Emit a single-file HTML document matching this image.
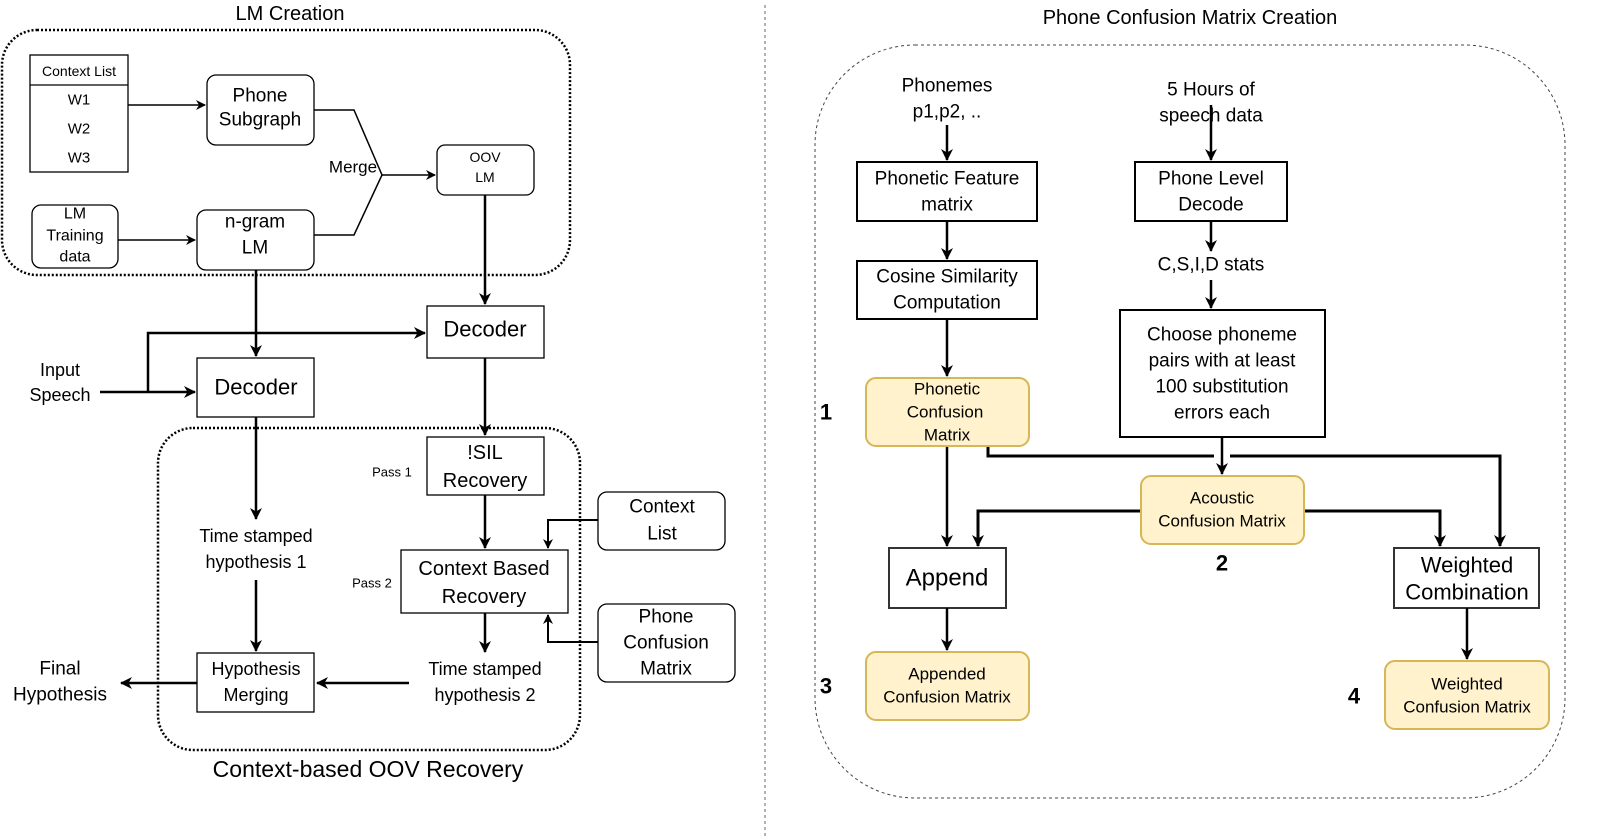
<!DOCTYPE html>
<html><head><meta charset="utf-8"><style>
html,body{margin:0;padding:0;background:#fff;}
svg{display:block;font-family:"Liberation Sans",Arial,sans-serif;}
text{dominant-baseline:central;text-anchor:middle;fill:#000;}
</style></head><body>
<svg width="1602" height="839" viewBox="0 0 1602 839" xmlns="http://www.w3.org/2000/svg">
<defs>
<marker id="a" markerWidth="10" markerHeight="10" refX="9" refY="5" orient="auto" markerUnits="userSpaceOnUse"><path d="M0,0 L10,5 L0,10 L3,5 z" fill="#000"/></marker>
<marker id="b" markerWidth="12" markerHeight="12" refX="11" refY="6" orient="auto" markerUnits="userSpaceOnUse"><path d="M0,0 L12,6 L0,12 L3.5,6 z" fill="#000"/></marker>
</defs>

<!-- LEFT -->
<text x="290" y="14" font-size="20">LM Creation</text>
<rect x="2" y="30" width="568" height="245" rx="35" fill="none" stroke="#000" stroke-width="2.5" stroke-dasharray="2,2"/>
<rect x="30" y="55" width="98" height="117" fill="#fff" stroke="#000" stroke-width="1.3"/>
<line x1="30" y1="85" x2="128" y2="85" stroke="#000" stroke-width="1.3"/>
<text x="79" y="71" font-size="14">Context List</text>
<text x="79" y="100" font-size="15">W1</text>
<text x="79" y="129" font-size="15">W2</text>
<text x="79" y="158" font-size="15">W3</text>
<rect x="207" y="75" width="107" height="70" rx="9" fill="#fff" stroke="#000" stroke-width="1.3"/>
<text x="260" y="96" font-size="19">Phone</text>
<text x="260" y="120" font-size="19">Subgraph</text>
<line x1="128" y1="105" x2="205" y2="105" stroke="#000" stroke-width="1.5" marker-end="url(#a)"/>
<rect x="32" y="205" width="86" height="63" rx="9" fill="#fff" stroke="#000" stroke-width="1.3"/>
<text x="75" y="214" font-size="16">LM</text>
<text x="75" y="236" font-size="16">Training</text>
<text x="75" y="257" font-size="16">data</text>
<rect x="197" y="210" width="117" height="60" rx="9" fill="#fff" stroke="#000" stroke-width="1.3"/>
<text x="255" y="222" font-size="19">n-gram</text>
<text x="255" y="248" font-size="19">LM</text>
<line x1="118" y1="240" x2="195" y2="240" stroke="#000" stroke-width="1.5" marker-end="url(#a)"/>
<polyline points="314,110 354,110 382,175 354,235 314,235" fill="none" stroke="#000" stroke-width="1.5"/>
<text x="353" y="167" font-size="17">Merge</text>
<line x1="382" y1="175" x2="435" y2="175" stroke="#000" stroke-width="1.5" marker-end="url(#a)"/>
<rect x="437" y="145" width="97" height="50" rx="8" fill="#fff" stroke="#000" stroke-width="1.3"/>
<text x="485" y="157" font-size="14">OOV</text>
<text x="485" y="177" font-size="14">LM</text>
<line x1="485" y1="195" x2="485" y2="304" stroke="#000" stroke-width="2.5" marker-end="url(#b)"/>
<rect x="427" y="306" width="117" height="52" fill="#fff" stroke="#000" stroke-width="1.3"/>
<text x="485" y="329" font-size="22">Decoder</text>
<line x1="256" y1="270" x2="256" y2="356" stroke="#000" stroke-width="2.5" marker-end="url(#b)"/>
<polyline points="148,392 148,333 425,333" fill="none" stroke="#000" stroke-width="2.5" marker-end="url(#b)"/>
<line x1="100" y1="392" x2="195" y2="392" stroke="#000" stroke-width="2.5" marker-end="url(#b)"/>
<text x="60" y="370" font-size="18">Input</text>
<text x="60" y="395" font-size="18">Speech</text>
<rect x="197" y="358" width="117" height="59" fill="#fff" stroke="#000" stroke-width="1.3"/>
<text x="256" y="387" font-size="22">Decoder</text>

<rect x="158" y="428" width="422" height="322" rx="35" fill="none" stroke="#000" stroke-width="2.5" stroke-dasharray="2,2"/>
<line x1="485" y1="358" x2="485" y2="435" stroke="#000" stroke-width="2.5" marker-end="url(#b)"/>
<rect x="427" y="437" width="117" height="58" fill="#fff" stroke="#000" stroke-width="1.3"/>
<text x="485" y="453" font-size="20">!SIL</text>
<text x="485" y="481" font-size="20">Recovery</text>
<text x="392" y="472" font-size="13">Pass 1</text>
<line x1="485" y1="495" x2="485" y2="548" stroke="#000" stroke-width="2.5" marker-end="url(#b)"/>
<rect x="401" y="550" width="167" height="63" fill="#fff" stroke="#000" stroke-width="1.3"/>
<text x="484" y="569" font-size="20">Context Based</text>
<text x="484" y="597" font-size="20">Recovery</text>
<text x="372" y="583" font-size="13">Pass 2</text>
<rect x="598" y="492" width="127" height="58" rx="9" fill="#fff" stroke="#000" stroke-width="1.3"/>
<text x="662" y="507" font-size="19">Context</text>
<text x="662" y="534" font-size="19">List</text>
<polyline points="598,520 548,520 548,548" fill="none" stroke="#000" stroke-width="2" marker-end="url(#a)"/>
<rect x="598" y="604" width="137" height="78" rx="9" fill="#fff" stroke="#000" stroke-width="1.3"/>
<text x="666" y="617" font-size="19">Phone</text>
<text x="666" y="643" font-size="19">Confusion</text>
<text x="666" y="669" font-size="19">Matrix</text>
<polyline points="598,642 548,642 548,615" fill="none" stroke="#000" stroke-width="2" marker-end="url(#a)"/>
<line x1="485" y1="613" x2="485" y2="652" stroke="#000" stroke-width="2.5" marker-end="url(#b)"/>
<text x="485" y="669" font-size="18">Time stamped</text>
<text x="485" y="695" font-size="18">hypothesis 2</text>
<line x1="409" y1="683" x2="317" y2="683" stroke="#000" stroke-width="2.5" marker-end="url(#b)"/>
<rect x="197" y="653" width="117" height="59" fill="#fff" stroke="#000" stroke-width="1.3"/>
<text x="256" y="669" font-size="18">Hypothesis</text>
<text x="256" y="695" font-size="18">Merging</text>
<line x1="256" y1="417" x2="256" y2="519" stroke="#000" stroke-width="2.5" marker-end="url(#b)"/>
<text x="256" y="536" font-size="18">Time stamped</text>
<text x="256" y="562" font-size="18">hypothesis 1</text>
<line x1="256" y1="580" x2="256" y2="651" stroke="#000" stroke-width="2.5" marker-end="url(#b)"/>
<line x1="197" y1="683" x2="121" y2="683" stroke="#000" stroke-width="2.5" marker-end="url(#b)"/>
<text x="60" y="669" font-size="19">Final</text>
<text x="60" y="695" font-size="19">Hypothesis</text>
<text x="368" y="769" font-size="23">Context-based OOV Recovery</text>

<line x1="765" y1="5" x2="765" y2="839" stroke="#666" stroke-width="1" stroke-dasharray="3,3"/>

<!-- RIGHT -->
<text x="1190" y="18" font-size="20">Phone Confusion Matrix Creation</text>
<rect x="815" y="45" width="750" height="753" rx="100" fill="none" stroke="#444" stroke-width="1" stroke-dasharray="3,3"/>
<text x="947" y="86" font-size="19">Phonemes</text>
<text x="947" y="112" font-size="19">p1,p2, ..</text>
<line x1="947" y1="125" x2="947" y2="160" stroke="#000" stroke-width="2.5" marker-end="url(#b)"/>
<rect x="857" y="162" width="180" height="59" fill="#fff" stroke="#000" stroke-width="2"/>
<text x="947" y="179" font-size="19">Phonetic Feature</text>
<text x="947" y="205" font-size="19">matrix</text>
<line x1="947" y1="221" x2="947" y2="259" stroke="#000" stroke-width="2.5" marker-end="url(#b)"/>
<rect x="857" y="261" width="180" height="58" fill="#fff" stroke="#000" stroke-width="2"/>
<text x="947" y="277" font-size="19">Cosine Similarity</text>
<text x="947" y="303" font-size="19">Computation</text>
<line x1="947" y1="319" x2="947" y2="376" stroke="#000" stroke-width="2.5" marker-end="url(#b)"/>
<polyline points="988,446 988,456 1214,456" fill="none" stroke="#000" stroke-width="3"/>
<polyline points="1230,456 1500,456 1500,546" fill="none" stroke="#000" stroke-width="3" marker-end="url(#b)"/>
<line x1="947" y1="446" x2="947" y2="546" stroke="#000" stroke-width="2.5" marker-end="url(#b)"/>
<rect x="866" y="378" width="163" height="68" rx="10" fill="#fff2cc" stroke="#d6b656" stroke-width="2"/>
<text x="947" y="389" font-size="17">Phonetic</text>
<text x="945" y="412" font-size="17">Confusion</text>
<text x="947" y="435" font-size="17">Matrix</text>
<text x="826" y="412" font-size="22" font-weight="bold">1</text>
<text x="1211" y="90" font-size="19">5 Hours of</text>
<text x="1211" y="116" font-size="19">speech data</text>
<line x1="1211" y1="105" x2="1211" y2="160" stroke="#000" stroke-width="2.5" marker-end="url(#b)"/>
<rect x="1135" y="162" width="152" height="59" fill="#fff" stroke="#000" stroke-width="2"/>
<text x="1211" y="179" font-size="19">Phone Level</text>
<text x="1211" y="205" font-size="19">Decode</text>
<line x1="1211" y1="221" x2="1211" y2="251" stroke="#000" stroke-width="2.5" marker-end="url(#b)"/>
<text x="1211" y="265" font-size="19">C,S,I,D stats</text>
<line x1="1211" y1="280" x2="1211" y2="308" stroke="#000" stroke-width="2.5" marker-end="url(#b)"/>
<rect x="1120" y="310" width="205" height="127" fill="#fff" stroke="#000" stroke-width="2"/>
<text x="1222" y="335" font-size="19">Choose phoneme</text>
<text x="1222" y="361" font-size="19">pairs with at least</text>
<text x="1222" y="387" font-size="19">100 substitution</text>
<text x="1222" y="413" font-size="19">errors each</text>
<line x1="1222" y1="437" x2="1222" y2="474" stroke="#000" stroke-width="2.5" marker-end="url(#b)"/>
<polyline points="1141,511 978,511 978,546" fill="none" stroke="#000" stroke-width="3" marker-end="url(#b)"/>
<polyline points="1304,511 1440,511 1440,546" fill="none" stroke="#000" stroke-width="3" marker-end="url(#b)"/>
<rect x="1141" y="476" width="163" height="68" rx="10" fill="#fff2cc" stroke="#d6b656" stroke-width="2"/>
<text x="1222" y="498" font-size="17">Acoustic</text>
<text x="1222" y="521" font-size="17">Confusion Matrix</text>
<text x="1222" y="563" font-size="22" font-weight="bold">2</text>
<rect x="889" y="548" width="117" height="60" fill="#fff" stroke="#333" stroke-width="2"/>
<text x="947" y="578" font-size="24">Append</text>
<line x1="947" y1="608" x2="947" y2="650" stroke="#000" stroke-width="2.5" marker-end="url(#b)"/>
<rect x="866" y="652" width="163" height="68" rx="10" fill="#fff2cc" stroke="#d6b656" stroke-width="2"/>
<text x="947" y="674" font-size="17">Appended</text>
<text x="947" y="697" font-size="17">Confusion Matrix</text>
<text x="826" y="686" font-size="22" font-weight="bold">3</text>
<rect x="1394" y="548" width="145" height="60" fill="#fff" stroke="#333" stroke-width="2"/>
<text x="1467" y="565" font-size="22">Weighted</text>
<text x="1467" y="592" font-size="22">Combination</text>
<line x1="1467" y1="608" x2="1467" y2="659" stroke="#000" stroke-width="2.5" marker-end="url(#b)"/>
<rect x="1385" y="661" width="164" height="68" rx="10" fill="#fff2cc" stroke="#d6b656" stroke-width="2"/>
<text x="1467" y="684" font-size="17">Weighted</text>
<text x="1467" y="707" font-size="17">Confusion Matrix</text>
<text x="1354" y="696" font-size="22" font-weight="bold">4</text>
</svg>
</body></html>
